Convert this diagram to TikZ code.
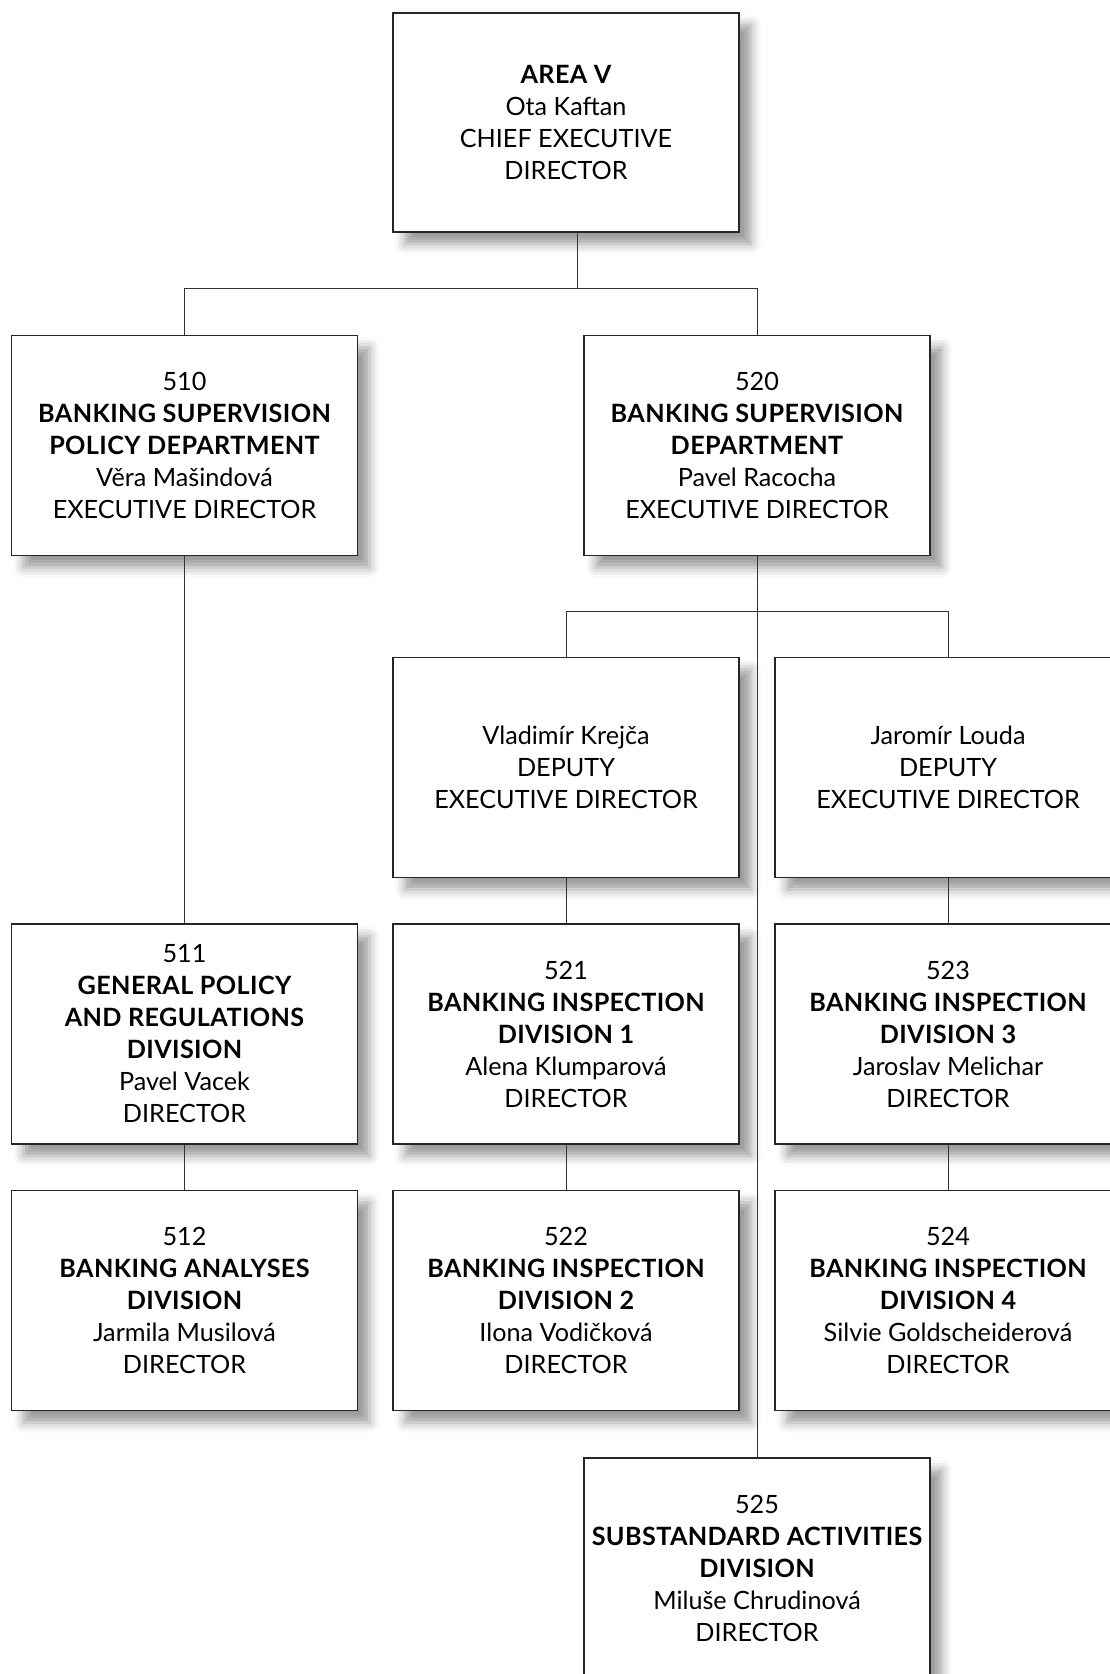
\documentclass[tikz,border=0pt]{standalone}
\usepackage{fontspec}
\setmainfont{Lato}
\newfontfamily\hbold[LetterSpace=1.5]{Lato Bold}
\newcommand\hb[1]{{\hbold #1}}
\usetikzlibrary{shadows.blur}
\begin{document}
\begin{tikzpicture}[x=1pt,y=-1pt,
  orgbox/.style={draw=black!85, line width=1.1pt, fill=white, minimum width=346pt, minimum height=220pt,
    align=center, inner sep=0pt, font=\fontsize{25.2}{32}\selectfont,
    blur shadow={shadow xshift=12pt, shadow yshift=-12pt, shadow blur radius=10pt, shadow opacity=40}},
  link/.style={draw=black!80, line width=0.9pt}]
\useasboundingbox (0,0) rectangle (1110,1674);
\clip (0,0) rectangle (1110,1674);
\node[orgbox, minimum height=219pt] (top) at (566,122.5) {\hb{AREA V}\\Ota Kaftan\\CHIEF EXECUTIVE\\DIRECTOR};
\node[orgbox] (d510) at (184.5,445.5) {510\\\hb{BANKING SUPERVISION}\\\hb{POLICY DEPARTMENT}\\Věra Mašindová\\EXECUTIVE DIRECTOR};
\node[orgbox] (d520) at (757,445.5) {520\\\hb{BANKING SUPERVISION}\\\hb{DEPARTMENT}\\Pavel Racocha\\EXECUTIVE DIRECTOR};
\node[orgbox] (dep1) at (566,767.5) {Vladimír Krejča\\DEPUTY\\EXECUTIVE DIRECTOR};
\node[orgbox] (dep2) at (948,767.5) {Jaromír Louda\\DEPUTY\\EXECUTIVE DIRECTOR};
\node[orgbox] (d511) at (184.5,1034) {511\\\hb{GENERAL POLICY}\\\hb{AND REGULATIONS}\\\hb{DIVISION}\\Pavel Vacek\\DIRECTOR};
\node[orgbox] (d521) at (566,1034) {521\\\hb{BANKING INSPECTION}\\\hb{DIVISION 1}\\Alena Klumparová\\DIRECTOR};
\node[orgbox] (d523) at (948,1034) {523\\\hb{BANKING INSPECTION}\\\hb{DIVISION 3}\\Jaroslav Melichar\\DIRECTOR};
\node[orgbox] (d512) at (184.5,1300.5) {512\\\hb{BANKING ANALYSES}\\\hb{DIVISION}\\Jarmila Musilová\\DIRECTOR};
\node[orgbox] (d522) at (566,1300.5) {522\\\hb{BANKING INSPECTION}\\\hb{DIVISION 2}\\Ilona Vodičková\\DIRECTOR};
\node[orgbox] (d524) at (948,1300.5) {524\\\hb{BANKING INSPECTION}\\\hb{DIVISION 4}\\Silvie Goldscheiderová\\DIRECTOR};
\node[orgbox] (d525) at (757,1568) {525\\\hb{SUBSTANDARD ACTIVITIES}\\\hb{DIVISION}\\Miluše Chrudinová\\DIRECTOR};
% connectors
\coordinate (bus1) at (577,288);
\coordinate (bus2) at (757,611);
\draw[link] (top.south -| bus1) -- (bus1);
\draw[link] (d510.north) -- (d510.north |- bus1) -- (d520.north |- bus1) -- (d520.north);
\draw[link] (d510.south) -- (d511.north);
\draw[link] (d511.south) -- (d512.north);
\draw[link] (d520.south) -- (d525.north);
\draw[link] (dep1.north) -- (dep1.north |- bus2) -- (dep2.north |- bus2) -- (dep2.north);
\draw[link] (dep1.south) -- (d521.north);
\draw[link] (d521.south) -- (d522.north);
\draw[link] (dep2.south) -- (d523.north);
\draw[link] (d523.south) -- (d524.north);
\end{tikzpicture}
\end{document}
